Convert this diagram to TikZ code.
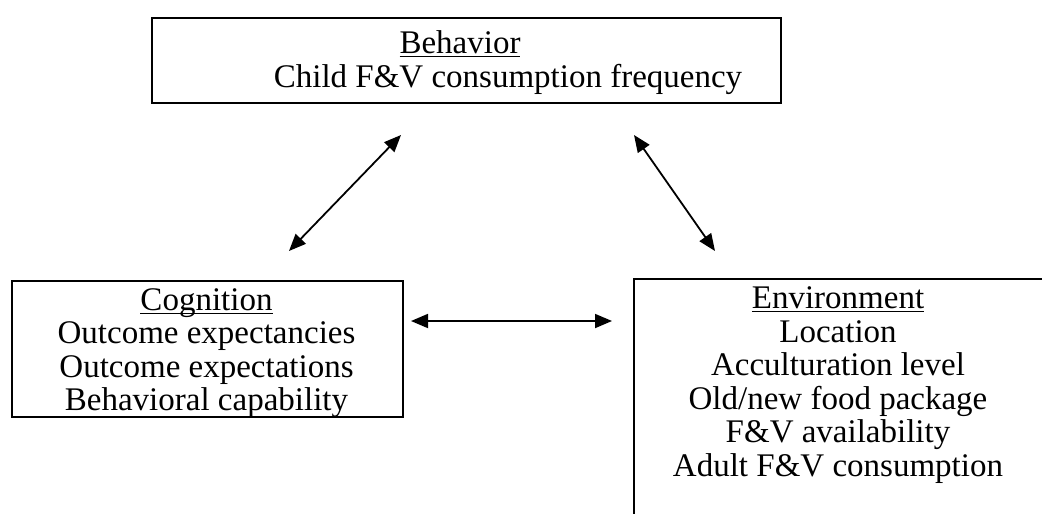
\documentclass[tikz,border=0pt]{standalone}
\usepackage{fontspec}
\setmainfont{Liberation Serif}
\usetikzlibrary{arrows.meta}
\newcommand{\ulword}[1]{\setbox0\hbox{#1}\rlap{\rule[-3.8pt]{\wd0}{1.4pt}}\box0}
\begin{document}
\begin{tikzpicture}[x=1pt,y=-1pt,
  box/.style={draw, line width=1.7pt, inner sep=0pt, anchor=north west},
  txt/.style={align=center, inner sep=0pt, font=\fontsize{33}{33.5}\selectfont},
  link/.style={line width=1.8pt, {Triangle[length=17pt,width=14pt]}-{Triangle[length=17pt,width=14pt]}}]
\clip (0,0) rectangle (1042,514);
% boxes
\node[box, minimum width=629pt, minimum height=85pt] (beh) at (151,17) {};
\node[box, minimum width=391pt, minimum height=136pt] (cog) at (11,280) {};
\node[box, minimum width=430pt, minimum height=270pt] (env) at (633,278) {};
% texts
\node[txt] (behT) at (460,44) {\ulword{Behavior}};
\node[txt] (behS) at (508,79) {Child F\&V consumption frequency};
\node[txt] (cogT) at (206.5,353) {\ulword{Cognition}\\Outcome expectancies\\Outcome expectations\\Behavioral capability};
\node[txt] (envT) at (838,385) {\ulword{Environment}\\Location\\Acculturation level\\Old/new food package\\F\&V availability\\Adult F\&V consumption};
% connectors
\coordinate (bl1) at (289,251);
\coordinate (bl2) at (401,135);
\coordinate (br1) at (634,135);
\coordinate (br2) at (715,251);
\coordinate (h1) at (411,321);
\coordinate (h2) at (612,321);
\draw[link] (bl1) -- (bl2);
\draw[link] (br1) -- (br2);
\draw[link] (h1) -- (h2);
\end{tikzpicture}
\end{document}
